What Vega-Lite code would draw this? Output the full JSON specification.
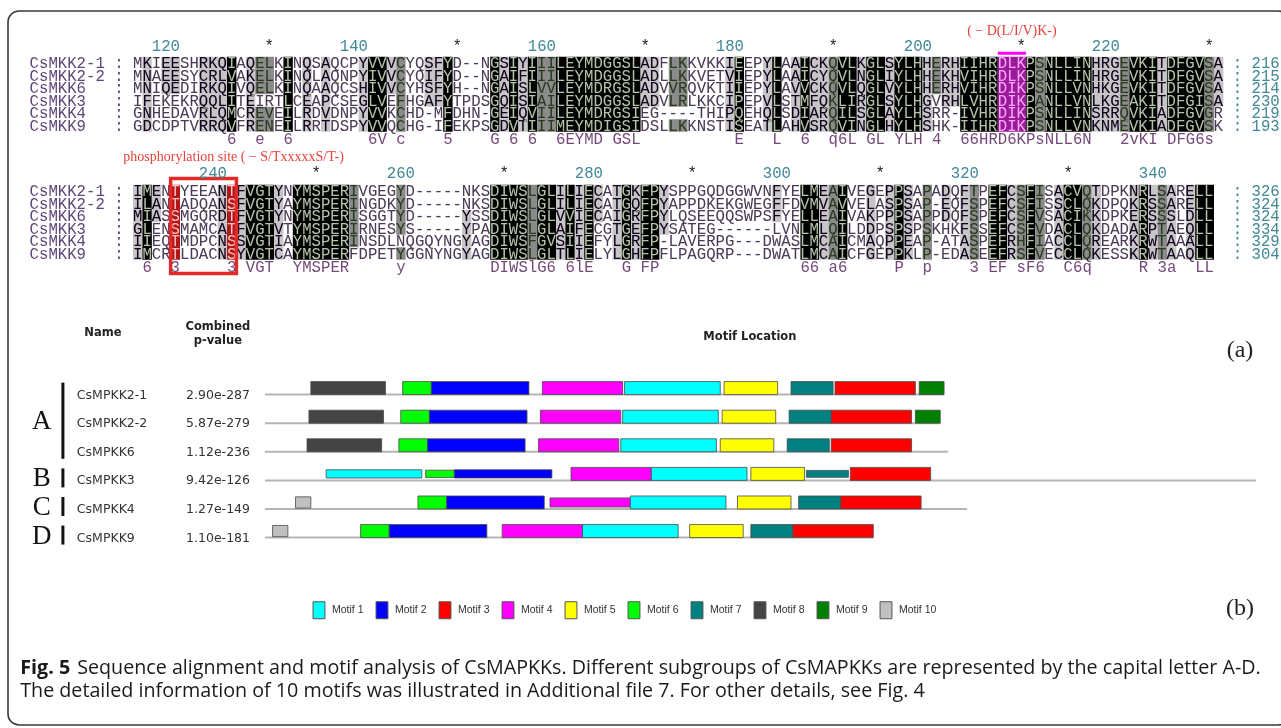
{
  "$schema": "https://vega.github.io/schema/vega-lite/v6.json",
  "width": 1281,
  "height": 728,
  "autosize": {"type": "fit", "contains": "padding"},
  "padding": {"left": 8, "top": 11, "right": -8, "bottom": 3},
  "background": "white",
  "config": {
    "view": {"stroke": "#3a3a3a", "strokeWidth": 1.6, "cornerRadius": 11, "fill": "white"}
  },
  "datasets": {
    "al1": [
      {"r": 0, "n": "CsMKK2-1", "s": "MKIEESHRKQIAQELKINQSAQCPYVVVCYQSFYD--NGSIYIIILEYMDGGSLADFLKKVKKIEEPYLAAICKQVLKGLSYLHHERHIIHRDLKPSNLLINHRGEVKITDFGVSA", "e": ": 216", "h": "DLK"},
      {"r": 1, "n": "CsMKK2-2", "s": "MNAEESYCRLVAKELKINQLAQNPYIVVCYQIFYD--NGAIFIIILEYMDGGSLADLLKKVETVIEPYLAAICYQVLNGLIYLHHEKHVIHRDLKPSNLLINHRGEVKITDFGVSA", "e": ": 215", "h": "DLK"},
      {"r": 2, "n": "CsMKK6", "s": "MNIQEDIRKQIVQELKINQAAQCSHIVVCYHSFYH--NGAISLVVLEYMDRGSLADVVRQVKTIIEPYLAVVCKQVLQGLVYLHHERHVIHRDIKPSNLLVNHKGEVKITDFGVSA", "e": ": 214", "h": "DIK"},
      {"r": 3, "n": "CsMKK3", "s": "IFEKEKRQQLITEIRTLCEAPCSEGLVEFHGAFYTPDSGQISIAILEYMDGGSLADVLRLKKCIPEPVLSTMFQKLIRGLSYLHGVRHLVHRDIKPANLLVNLKGEAKITDFGISA", "e": ": 230", "h": "DIK"},
      {"r": 4, "n": "CsMKK4", "s": "GNHEDAVRLQMCREVEILRDVDNPYVVKCHD-MFDHN-GEIQVIILEYMDRGSIEG----THIPQEHQLSDIARQILSGLAYLHSRR-IVHRDIKPSNLLINSRRQVKIADFGVGR", "e": ": 219", "h": "DIK"},
      {"r": 5, "n": "CsMKK9", "s": "GDCDPTVRRQVFRENEILRRTDSPYVVQCHG-IFEKPSGDVTIIIMEYMDIGSIDSLLKKNSTISEATLAHVSRQVINGLHYLHSHK-IIHRDIKPSNLLVNKNMEVKIADFGVSK", "e": ": 193", "h": "DIK"}
    ],
    "al2": [
      {"r": 0, "n": "CsMKK2-1", "s": "IMENTYEEANTFVGTYNYMSPERIVGEGYD-----NKSDIWSLGLILIECATGKFPYSPPGQDGGWVNFYELMEAIVEGEPPSAPADQFTPEFCSFISACVQTDPKNRLSARELL", "e": ": 326", "a": "T", "b": "T"},
      {"r": 1, "n": "CsMKK2-2", "s": "ILANTADQANSFVGTYAYMSPERINGDKYD-----NKSDIWSLGLILIECATGQFPYAPPDKEKGWEGFFDVMVAVVELASPSAP-EQFSPEFCSFISSCLQKDPQKRSSARELL", "e": ": 324", "a": "T", "b": "S"},
      {"r": 2, "n": "CsMKK6", "s": "MIASSMGQRDTFVGTYNYMSPERISGGTYD-----YSSDIWSLGLVVIECAIGRFPYLQSEEQQSWPSFYELLEAIVAKPPPSAPPDQFSPEFCSFVSACIKKDPKERSSSLDLL", "e": ": 324", "a": "S", "b": "T"},
      {"r": 3, "n": "CsMKK3", "s": "GLENSMAMCATFVGTVTYMSPERIRNESYS-----YPADIWSLGLAIFECGTGEFPYSATEG------LVNLMLQILDDPSPSPSKHKFSSEFCSFVDACLQKDADARPTAEQLL", "e": ": 334", "a": "S", "b": "T"},
      {"r": 4, "n": "CsMKK4", "s": "IIEQTMDPCNSSVGTIAYMSPERINSDLNQGQYNGYAGDIWSFGVSIIEFYLGRFP-LAVERPG---DWASLMCAICMAQPPEAP-ATASPEFRHFIACCLQREARKRWTAAALL", "e": ": 329", "a": "T", "b": "S"},
      {"r": 5, "n": "CsMKK9", "s": "IMCRTLDACNSYVGTCAYMSPERFDPETYGGNYNGYAGDIWSLGLTLIELYLGHFPFLPAGQRP---DWATLMCAICFGEPPKLP-EDASEEFRSFVECCLQKESSKRWTAAQLL", "e": ": 304", "a": "T", "b": "S"}
    ],
    "sh1": [
      {"c0": 1, "c1": 2, "t": -0.5, "b": 5.5, "s": "l"},
      {"c0": 3, "c1": 5, "t": -0.5, "b": 2.5, "s": "l"},
      {"c0": 7, "c1": 10, "t": -0.5, "b": 5.5, "s": "l"},
      {"c0": 10, "c1": 11, "t": -0.5, "b": 5.5, "s": "k"},
      {"c0": 12, "c1": 13, "t": -0.5, "b": 5.5, "s": "l"},
      {"c0": 13, "c1": 15, "t": -0.5, "b": 2.5, "s": "d"},
      {"c0": 13, "c1": 15, "t": 3.5, "b": 5.5, "s": "d"},
      {"c0": 16, "c1": 17, "t": -0.5, "b": 5.5, "s": "k"},
      {"c0": 18, "c1": 19, "t": -0.5, "b": 5.5, "s": "l"},
      {"c0": 20, "c1": 21, "t": -0.5, "b": 5.5, "s": "l"},
      {"c0": 24, "c1": 25, "t": -0.5, "b": 5.5, "s": "l"},
      {"c0": 25, "c1": 27, "t": -0.5, "b": 5.5, "s": "k"},
      {"c0": 27, "c1": 28, "t": -0.5, "b": 2.5, "s": "l"},
      {"c0": 28, "c1": 29, "t": -0.5, "b": 5.5, "s": "d"},
      {"c0": 31, "c1": 33, "t": -0.5, "b": 3.5, "s": "l"},
      {"c0": 33, "c1": 34, "t": -0.5, "b": 5.5, "s": "k"},
      {"c0": 38, "c1": 39, "t": -0.5, "b": 5.5, "s": "k"},
      {"c0": 39, "c1": 40, "t": -0.5, "b": 5.5, "s": "l"},
      {"c0": 40, "c1": 41, "t": -0.5, "b": 5.5, "s": "k"},
      {"c0": 41, "c1": 42, "t": -0.5, "b": 5.5, "s": "l"},
      {"c0": 42, "c1": 43, "t": -0.5, "b": 5.5, "s": "k"},
      {"c0": 43, "c1": 45, "t": -0.5, "b": 5.5, "s": "d"},
      {"c0": 45, "c1": 54, "t": -0.5, "b": 5.5, "s": "k"},
      {"c0": 54, "c1": 56, "t": -0.5, "b": 3.5, "s": "l"},
      {"c0": 57, "c1": 59, "t": -0.5, "b": 3.5, "s": "d"},
      {"c0": 57, "c1": 59, "t": 4.5, "b": 5.5, "s": "d"},
      {"c0": 63, "c1": 64, "t": -0.5, "b": 5.5, "s": "l"},
      {"c0": 64, "c1": 65, "t": -0.5, "b": 5.5, "s": "k"},
      {"c0": 67, "c1": 68, "t": -0.5, "b": 5.5, "s": "l"},
      {"c0": 68, "c1": 69, "t": -0.5, "b": 5.5, "s": "k"},
      {"c0": 70, "c1": 71, "t": -0.5, "b": 5.5, "s": "l"},
      {"c0": 71, "c1": 72, "t": -0.5, "b": 5.5, "s": "k"},
      {"c0": 72, "c1": 74, "t": -0.5, "b": 5.5, "s": "l"},
      {"c0": 74, "c1": 75, "t": -0.5, "b": 5.5, "s": "d"},
      {"c0": 75, "c1": 77, "t": -0.5, "b": 5.5, "s": "k"},
      {"c0": 77, "c1": 78, "t": -0.5, "b": 5.5, "s": "l"},
      {"c0": 78, "c1": 80, "t": -0.5, "b": 5.5, "s": "k"},
      {"c0": 80, "c1": 81, "t": -0.5, "b": 5.5, "s": "l"},
      {"c0": 81, "c1": 84, "t": -0.5, "b": 5.5, "s": "k"},
      {"c0": 84, "c1": 85, "t": -0.5, "b": 5.5, "s": "l"},
      {"c0": 85, "c1": 86, "t": -0.5, "b": 2.5, "s": "d"},
      {"c0": 86, "c1": 88, "t": -0.5, "b": 3.5, "s": "l"},
      {"c0": 88, "c1": 92, "t": -0.5, "b": 5.5, "s": "k"},
      {"c0": 95, "c1": 96, "t": -0.5, "b": 5.5, "s": "k"},
      {"c0": 96, "c1": 97, "t": -0.5, "b": 5.5, "s": "d"},
      {"c0": 97, "c1": 102, "t": -0.5, "b": 5.5, "s": "k"},
      {"c0": 102, "c1": 105, "t": -0.5, "b": 5.5, "s": "l"},
      {"c0": 105, "c1": 106, "t": -0.5, "b": 5.5, "s": "d"},
      {"c0": 106, "c1": 109, "t": -0.5, "b": 5.5, "s": "k"},
      {"c0": 109, "c1": 110, "t": -0.5, "b": 5.5, "s": "l"},
      {"c0": 110, "c1": 114, "t": -0.5, "b": 5.5, "s": "k"},
      {"c0": 114, "c1": 115, "t": -0.5, "b": 5.5, "s": "d"},
      {"c0": 115, "c1": 116, "t": -0.5, "b": 3.5, "s": "l"}
    ],
    "sh2": [
      {"c0": 0, "c1": 1, "t": -0.5, "b": 5.5, "s": "l"},
      {"c0": 1, "c1": 2, "t": -0.5, "b": 5.5, "s": "k"},
      {"c0": 2, "c1": 3, "t": -0.5, "b": 2.5, "s": "l"},
      {"c0": 9, "c1": 10, "t": -0.5, "b": 5.5, "s": "l"},
      {"c0": 11, "c1": 12, "t": -0.5, "b": 5.5, "s": "l"},
      {"c0": 12, "c1": 15, "t": -0.5, "b": 5.5, "s": "k"},
      {"c0": 15, "c1": 16, "t": -0.5, "b": 5.5, "s": "l"},
      {"c0": 17, "c1": 23, "t": -0.5, "b": 5.5, "s": "k"},
      {"c0": 23, "c1": 24, "t": -0.5, "b": 4.5, "s": "d"},
      {"c0": 28, "c1": 29, "t": -0.5, "b": 3.5, "s": "d"},
      {"c0": 28, "c1": 29, "t": 4.5, "b": 5.5, "s": "d"},
      {"c0": 35, "c1": 36, "t": 1.5, "b": 5.5, "s": "l"},
      {"c0": 38, "c1": 42, "t": -0.5, "b": 5.5, "s": "k"},
      {"c0": 42, "c1": 43, "t": -0.5, "b": 5.5, "s": "d"},
      {"c0": 43, "c1": 45, "t": -0.5, "b": 5.5, "s": "k"},
      {"c0": 45, "c1": 46, "t": -0.5, "b": 5.5, "s": "l"},
      {"c0": 46, "c1": 47, "t": -0.5, "b": 5.5, "s": "k"},
      {"c0": 47, "c1": 48, "t": -0.5, "b": 5.5, "s": "l"},
      {"c0": 48, "c1": 49, "t": -0.5, "b": 5.5, "s": "k"},
      {"c0": 49, "c1": 50, "t": -0.5, "b": 2.5, "s": "l"},
      {"c0": 51, "c1": 52, "t": -0.5, "b": 5.5, "s": "l"},
      {"c0": 52, "c1": 53, "t": -0.5, "b": 5.5, "s": "k"},
      {"c0": 53, "c1": 54, "t": -0.5, "b": 5.5, "s": "l"},
      {"c0": 54, "c1": 56, "t": -0.5, "b": 5.5, "s": "k"},
      {"c0": 56, "c1": 57, "t": -0.5, "b": 3.5, "s": "l"},
      {"c0": 68, "c1": 69, "t": -0.5, "b": 2.5, "s": "l"},
      {"c0": 71, "c1": 73, "t": -0.5, "b": 5.5, "s": "k"},
      {"c0": 73, "c1": 74, "t": -0.5, "b": 5.5, "s": "l"},
      {"c0": 74, "c1": 75, "t": -0.5, "b": 5.5, "s": "d"},
      {"c0": 75, "c1": 76, "t": -0.5, "b": 5.5, "s": "k"},
      {"c0": 78, "c1": 79, "t": -0.5, "b": 5.5, "s": "l"},
      {"c0": 80, "c1": 81, "t": -0.5, "b": 5.5, "s": "l"},
      {"c0": 81, "c1": 82, "t": -0.5, "b": 5.5, "s": "k"},
      {"c0": 82, "c1": 83, "t": -0.5, "b": 5.5, "s": "l"},
      {"c0": 84, "c1": 85, "t": -0.5, "b": 5.5, "s": "d"},
      {"c0": 86, "c1": 87, "t": -0.5, "b": 2.5, "s": "l"},
      {"c0": 88, "c1": 89, "t": -0.5, "b": 5.5, "s": "l"},
      {"c0": 89, "c1": 90, "t": -0.5, "b": 5.5, "s": "d"},
      {"c0": 91, "c1": 93, "t": -0.5, "b": 5.5, "s": "k"},
      {"c0": 93, "c1": 94, "t": -0.5, "b": 5.5, "s": "l"},
      {"c0": 94, "c1": 95, "t": -0.5, "b": 5.5, "s": "d"},
      {"c0": 95, "c1": 96, "t": -0.5, "b": 5.5, "s": "k"},
      {"c0": 96, "c1": 97, "t": -0.5, "b": 5.5, "s": "d"},
      {"c0": 98, "c1": 99, "t": -0.5, "b": 5.5, "s": "l"},
      {"c0": 99, "c1": 101, "t": -0.5, "b": 5.5, "s": "k"},
      {"c0": 101, "c1": 102, "t": -0.5, "b": 5.5, "s": "d"},
      {"c0": 102, "c1": 103, "t": -0.5, "b": 5.5, "s": "l"},
      {"c0": 106, "c1": 107, "t": -0.5, "b": 5.5, "s": "l"},
      {"c0": 107, "c1": 108, "t": -0.5, "b": 5.5, "s": "k"},
      {"c0": 108, "c1": 109, "t": -0.5, "b": 5.5, "s": "l"},
      {"c0": 109, "c1": 110, "t": -0.5, "b": 5.5, "s": "d"},
      {"c0": 110, "c1": 111, "t": -0.5, "b": 5.5, "s": "l"},
      {"c0": 112, "c1": 113, "t": -0.5, "b": 5.5, "s": "l"},
      {"c0": 113, "c1": 115, "t": -0.5, "b": 5.5, "s": "k"}
    ],
    "num1": [
      {"e": 5, "t": "120"}, {"e": 15, "t": "*"}, {"e": 25, "t": "140"}, {"e": 35, "t": "*"},
      {"e": 45, "t": "160"}, {"e": 55, "t": "*"}, {"e": 65, "t": "180"}, {"e": 75, "t": "*"},
      {"e": 85, "t": "200"}, {"e": 95, "t": "*"}, {"e": 105, "t": "220"}, {"e": 115, "t": "*"}
    ],
    "num2": [
      {"e": 10, "t": "240"}, {"e": 20, "t": "*"}, {"e": 30, "t": "260"}, {"e": 40, "t": "*"},
      {"e": 50, "t": "280"}, {"e": 60, "t": "*"}, {"e": 70, "t": "300"}, {"e": 80, "t": "*"},
      {"e": 90, "t": "320"}, {"e": 100, "t": "*"}, {"e": 110, "t": "340"}
    ],
    "con1": [
      {"c": 10, "t": "6"}, {"c": 13, "t": "e"}, {"c": 16, "t": "6"}, {"c": 25, "t": "6V"}, {"c": 28, "t": "c"},
      {"c": 33, "t": "5"}, {"c": 38, "t": "G"}, {"c": 40, "t": "6"}, {"c": 42, "t": "6"}, {"c": 45, "t": "6EYMD"},
      {"c": 51, "t": "GSL"}, {"c": 64, "t": "E"}, {"c": 68, "t": "L"}, {"c": 71, "t": "6"}, {"c": 74, "t": "q6L"},
      {"c": 78, "t": "GL"}, {"c": 81, "t": "YLH"}, {"c": 85, "t": "4"}, {"c": 88, "t": "66HRD6KPsNLL6N"},
      {"c": 105, "t": "2vKI"}, {"c": 110, "t": "DFG6s"}
    ],
    "con2": [
      {"c": 1, "t": "6"}, {"c": 4, "t": "3"}, {"c": 10, "t": "3"}, {"c": 12, "t": "VGT"}, {"c": 17, "t": "YMSPER"},
      {"c": 28, "t": "y"}, {"c": 38, "t": "DIWSlG6"}, {"c": 46, "t": "6lE"}, {"c": 52, "t": "G"}, {"c": 54, "t": "FP"},
      {"c": 71, "t": "66"}, {"c": 74, "t": "a6"}, {"c": 81, "t": "P"}, {"c": 84, "t": "p"}, {"c": 89, "t": "3"},
      {"c": 91, "t": "EF"}, {"c": 94, "t": "sF6"}, {"c": 99, "t": "C6q"}, {"c": 107, "t": "R"}, {"c": 109, "t": "3a"},
      {"c": 113, "t": "LL"}
    ],
    "hl1": [{"lab": "( − D(L/I/V)K-)", "c0": 92, "c1": 95, "r0": -0.5, "r1": 5.5}],
    "hl2": [{"c0": 4, "c1": 5, "r0": -0.5, "r1": 5.5}, {"c0": 10, "c1": 11, "r0": -0.5, "r1": 5.5}],
    "box2": [{"lab": "phosphorylation site ( − S/TxxxxxS/T-)", "c0": 4, "c1": 11, "r0": -1.0, "r1": 6.6}],
    "mseq": [
      {"i": 0, "n": "CsMPKK2-1", "pv": "2.90e-287", "grp": "A", "len": 355},
      {"i": 1, "n": "CsMPKK2-2", "pv": "5.87e-279", "grp": "A", "len": 353},
      {"i": 2, "n": "CsMPKK6", "pv": "1.12e-236", "grp": "A", "len": 357},
      {"i": 3, "n": "CsMPKK3", "pv": "9.42e-126", "grp": "B", "len": 518},
      {"i": 4, "n": "CsMPKK4", "pv": "1.27e-149", "grp": "C", "len": 367},
      {"i": 5, "n": "CsMPKK9", "pv": "1.10e-181", "grp": "D", "len": 318}
    ],
    "mgrp": [
      {"grp": "A", "r0": 0, "r1": 2, "mid": 1},
      {"grp": "B", "r0": 3, "r1": 3, "mid": 3},
      {"grp": "C", "r0": 4, "r1": 4, "mid": 4},
      {"grp": "D", "r0": 5, "r1": 5, "mid": 5}
    ],
    "msite": [
      {"i": 0, "m": 8, "s": 24, "e": 63, "lg": 30}, {"i": 0, "m": 6, "s": 72, "e": 87, "lg": 30},
      {"i": 0, "m": 2, "s": 87, "e": 138, "lg": 30}, {"i": 0, "m": 4, "s": 145, "e": 187, "lg": 30},
      {"i": 0, "m": 1, "s": 188, "e": 238, "lg": 30}, {"i": 0, "m": 5, "s": 240, "e": 268, "lg": 30},
      {"i": 0, "m": 7, "s": 275, "e": 297, "lg": 30}, {"i": 0, "m": 3, "s": 298, "e": 340, "lg": 30},
      {"i": 0, "m": 9, "s": 342, "e": 355, "lg": 30},
      {"i": 1, "m": 8, "s": 23, "e": 62, "lg": 30}, {"i": 1, "m": 6, "s": 71, "e": 86, "lg": 30},
      {"i": 1, "m": 2, "s": 86, "e": 137, "lg": 30}, {"i": 1, "m": 4, "s": 144, "e": 186, "lg": 30},
      {"i": 1, "m": 1, "s": 187, "e": 237, "lg": 30}, {"i": 1, "m": 5, "s": 239, "e": 267, "lg": 30},
      {"i": 1, "m": 7, "s": 274, "e": 296, "lg": 30}, {"i": 1, "m": 3, "s": 296, "e": 338, "lg": 30},
      {"i": 1, "m": 9, "s": 340, "e": 353, "lg": 30},
      {"i": 2, "m": 8, "s": 22, "e": 61, "lg": 30}, {"i": 2, "m": 6, "s": 70, "e": 85, "lg": 30},
      {"i": 2, "m": 2, "s": 85, "e": 136, "lg": 30}, {"i": 2, "m": 4, "s": 143, "e": 185, "lg": 30},
      {"i": 2, "m": 1, "s": 186, "e": 236, "lg": 30}, {"i": 2, "m": 5, "s": 238, "e": 266, "lg": 30},
      {"i": 2, "m": 7, "s": 273, "e": 295, "lg": 30}, {"i": 2, "m": 3, "s": 296, "e": 338, "lg": 30},
      {"i": 3, "m": 1, "s": 32, "e": 82, "lg": 19}, {"i": 3, "m": 6, "s": 84, "e": 99, "lg": 17},
      {"i": 3, "m": 2, "s": 99, "e": 150, "lg": 19}, {"i": 3, "m": 4, "s": 160, "e": 202, "lg": 30},
      {"i": 3, "m": 1, "s": 202, "e": 252, "lg": 30}, {"i": 3, "m": 5, "s": 254, "e": 282, "lg": 30},
      {"i": 3, "m": 7, "s": 283, "e": 305, "lg": 16}, {"i": 3, "m": 3, "s": 306, "e": 348, "lg": 30},
      {"i": 4, "m": 10, "s": 16, "e": 24, "lg": 26}, {"i": 4, "m": 6, "s": 80, "e": 95, "lg": 30},
      {"i": 4, "m": 2, "s": 95, "e": 146, "lg": 30}, {"i": 4, "m": 4, "s": 149, "e": 191, "lg": 21},
      {"i": 4, "m": 1, "s": 191, "e": 241, "lg": 30}, {"i": 4, "m": 5, "s": 247, "e": 275, "lg": 30},
      {"i": 4, "m": 7, "s": 279, "e": 301, "lg": 30}, {"i": 4, "m": 3, "s": 301, "e": 343, "lg": 30},
      {"i": 5, "m": 10, "s": 4, "e": 12, "lg": 26}, {"i": 5, "m": 6, "s": 50, "e": 65, "lg": 30},
      {"i": 5, "m": 2, "s": 65, "e": 116, "lg": 30}, {"i": 5, "m": 4, "s": 124, "e": 166, "lg": 30},
      {"i": 5, "m": 1, "s": 166, "e": 216, "lg": 30}, {"i": 5, "m": 5, "s": 222, "e": 250, "lg": 30},
      {"i": 5, "m": 7, "s": 254, "e": 276, "lg": 30}, {"i": 5, "m": 3, "s": 276, "e": 318, "lg": 30}
    ],
    "cap": [
      {"ln": 0, "lead": "Fig. 5", "t": "Sequence alignment and motif analysis of CsMAPKKs. Different subgroups of CsMAPKKs are represented by the capital letter A-D."},
      {"ln": 1, "lead": "", "t": "The detailed information of 10 motifs was illustrated in Additional file 7. For other details, see Fig. 4"}
    ]
  },
  "layer": [
    {
      "layer": [
        {
          "data": {"name": "sh1"},
          "mark": {"type": "rect"},
          "encoding": {
            "x": {"field": "c0", "type": "quantitative", "scale": {"domain": [-13.3, 122.98], "nice": false, "zero": false}, "axis": null},
            "x2": {"field": "c1"},
            "y": {"field": "t", "type": "quantitative", "scale": {"domain": [-4.16, 52.96], "reverse": true, "nice": false, "zero": false}, "axis": null},
            "y2": {"field": "b"},
            "color": {"field": "s", "type": "nominal", "scale": {"domain": ["k", "d", "l"], "range": ["#000000", "#8a8a8a", "#c6c6c6"]}, "legend": null}
          }
        },
        {
          "data": {"name": "al1"},
          "mark": {"type": "text", "align": "left", "baseline": "middle", "font": "Liberation Mono", "fontSize": 15.67, "color": "#b4c4a8", "blend": "difference"},
          "encoding": {
            "x": {"datum": 0, "type": "quantitative", "scale": {"domain": [-13.3, 122.98], "nice": false, "zero": false}, "axis": null},
            "y": {"field": "r", "type": "quantitative", "scale": {"domain": [-4.16, 52.96], "reverse": true, "nice": false, "zero": false}, "axis": null},
            "text": {"field": "s"}
          }
        },
        {
          "data": {"name": "hl1"},
          "mark": {"type": "rect", "color": "#9a1a9a"},
          "encoding": {
            "x": {"field": "c0", "type": "quantitative", "scale": {"domain": [-13.3, 122.98], "nice": false, "zero": false}, "axis": null},
            "x2": {"field": "c1"},
            "y": {"field": "r0", "type": "quantitative", "scale": {"domain": [-4.16, 52.96], "reverse": true, "nice": false, "zero": false}, "axis": null},
            "y2": {"field": "r1"}
          }
        },
        {
          "data": {"name": "al1"},
          "mark": {"type": "text", "align": "left", "baseline": "middle", "font": "Liberation Mono", "fontSize": 15.67, "color": "#ffa8ff"},
          "encoding": {
            "x": {"datum": 92, "type": "quantitative", "scale": {"domain": [-13.3, 122.98], "nice": false, "zero": false}, "axis": null},
            "y": {"field": "r", "type": "quantitative", "scale": {"domain": [-4.16, 52.96], "reverse": true, "nice": false, "zero": false}, "axis": null},
            "text": {"field": "h"}
          }
        },
        {
          "data": {"name": "al1"},
          "mark": {"type": "text", "align": "left", "baseline": "middle", "font": "Liberation Mono", "fontSize": 15.67, "color": "#5e4678"},
          "encoding": {
            "x": {"datum": -11, "type": "quantitative", "scale": {"domain": [-13.3, 122.98], "nice": false, "zero": false}, "axis": null},
            "y": {"field": "r", "type": "quantitative", "scale": {"domain": [-4.16, 52.96], "reverse": true, "nice": false, "zero": false}, "axis": null},
            "text": {"field": "n"}
          }
        },
        {
          "data": {"name": "al1"},
          "mark": {"type": "text", "align": "left", "baseline": "middle", "font": "Liberation Mono", "fontSize": 15.67, "color": "#5e4678"},
          "encoding": {
            "x": {"datum": -2, "type": "quantitative", "scale": {"domain": [-13.3, 122.98], "nice": false, "zero": false}, "axis": null},
            "y": {"field": "r", "type": "quantitative", "scale": {"domain": [-4.16, 52.96], "reverse": true, "nice": false, "zero": false}, "axis": null},
            "text": {"value": ":"}
          }
        },
        {
          "data": {"name": "al1"},
          "mark": {"type": "text", "align": "left", "baseline": "middle", "font": "Liberation Mono", "fontSize": 15.67, "color": "#3f8896"},
          "encoding": {
            "x": {"datum": 117, "type": "quantitative", "scale": {"domain": [-13.3, 122.98], "nice": false, "zero": false}, "axis": null},
            "y": {"field": "r", "type": "quantitative", "scale": {"domain": [-4.16, 52.96], "reverse": true, "nice": false, "zero": false}, "axis": null},
            "text": {"field": "e"}
          }
        },
        {
          "data": {"name": "num1"},
          "mark": {"type": "text", "align": "right", "baseline": "middle", "font": "Liberation Mono", "fontSize": 15.67},
          "encoding": {
            "x": {"field": "e", "type": "quantitative", "scale": {"domain": [-13.3, 122.98], "nice": false, "zero": false}, "axis": null},
            "y": {"datum": -1.35, "type": "quantitative", "scale": {"domain": [-4.16, 52.96], "reverse": true, "nice": false, "zero": false}, "axis": null},
            "text": {"field": "t"},
            "color": {"condition": {"test": "datum.t === '*'", "value": "#222222"}, "value": "#3f8896"}
          }
        },
        {
          "data": {"name": "con1"},
          "mark": {"type": "text", "align": "left", "baseline": "middle", "font": "Liberation Mono", "fontSize": 15.67, "color": "#74497a"},
          "encoding": {
            "x": {"field": "c", "type": "quantitative", "scale": {"domain": [-13.3, 122.98], "nice": false, "zero": false}, "axis": null},
            "y": {"datum": 6.1, "type": "quantitative", "scale": {"domain": [-4.16, 52.96], "reverse": true, "nice": false, "zero": false}, "axis": null},
            "text": {"field": "t"}
          }
        },
        {
          "data": {"name": "hl1"},
          "mark": {"type": "rule", "color": "#ff00ff", "strokeWidth": 3},
          "encoding": {
            "x": {"field": "c0", "type": "quantitative", "scale": {"domain": [-13.3, 122.98], "nice": false, "zero": false}, "axis": null},
            "x2": {"field": "c1"},
            "y": {"datum": -0.78, "type": "quantitative", "scale": {"domain": [-4.16, 52.96], "reverse": true, "nice": false, "zero": false}, "axis": null}
          }
        },
        {
          "data": {"name": "hl1"},
          "mark": {"type": "text", "align": "center", "baseline": "middle", "font": "Liberation Serif", "fontSize": 14, "color": "#e8403a"},
          "encoding": {
            "x": {"datum": 93.5, "type": "quantitative", "scale": {"domain": [-13.3, 122.98], "nice": false, "zero": false}, "axis": null},
            "y": {"datum": -2.6, "type": "quantitative", "scale": {"domain": [-4.16, 52.96], "reverse": true, "nice": false, "zero": false}, "axis": null},
            "text": {"field": "lab"}
          }
        }
      ]
    },
    {
      "layer": [
        {
          "data": {"name": "sh2"},
          "mark": {"type": "rect"},
          "encoding": {
            "x": {"field": "c0", "type": "quantitative", "scale": {"domain": [-13.3, 122.98], "nice": false, "zero": false}, "axis": null},
            "x2": {"field": "c1"},
            "y": {"field": "t", "type": "quantitative", "scale": {"domain": [-14.4, 42.72], "reverse": true, "nice": false, "zero": false}, "axis": null},
            "y2": {"field": "b"},
            "color": {"field": "s", "type": "nominal", "scale": {"domain": ["k", "d", "l"], "range": ["#000000", "#8a8a8a", "#c6c6c6"]}, "legend": null}
          }
        },
        {
          "data": {"name": "al2"},
          "mark": {"type": "text", "align": "left", "baseline": "middle", "font": "Liberation Mono", "fontSize": 15.67, "color": "#b4c4a8", "blend": "difference"},
          "encoding": {
            "x": {"datum": 0, "type": "quantitative", "scale": {"domain": [-13.3, 122.98], "nice": false, "zero": false}, "axis": null},
            "y": {"field": "r", "type": "quantitative", "scale": {"domain": [-14.4, 42.72], "reverse": true, "nice": false, "zero": false}, "axis": null},
            "text": {"field": "s"}
          }
        },
        {
          "data": {"name": "hl2"},
          "mark": {"type": "rect", "color": "#b01818"},
          "encoding": {
            "x": {"field": "c0", "type": "quantitative", "scale": {"domain": [-13.3, 122.98], "nice": false, "zero": false}, "axis": null},
            "x2": {"field": "c1"},
            "y": {"field": "r0", "type": "quantitative", "scale": {"domain": [-14.4, 42.72], "reverse": true, "nice": false, "zero": false}, "axis": null},
            "y2": {"field": "r1"}
          }
        },
        {
          "data": {"name": "al2"},
          "mark": {"type": "text", "align": "left", "baseline": "middle", "font": "Liberation Mono", "fontSize": 15.67, "color": "#ffc4c4"},
          "encoding": {
            "x": {"datum": 4, "type": "quantitative", "scale": {"domain": [-13.3, 122.98], "nice": false, "zero": false}, "axis": null},
            "y": {"field": "r", "type": "quantitative", "scale": {"domain": [-14.4, 42.72], "reverse": true, "nice": false, "zero": false}, "axis": null},
            "text": {"field": "a"}
          }
        },
        {
          "data": {"name": "al2"},
          "mark": {"type": "text", "align": "left", "baseline": "middle", "font": "Liberation Mono", "fontSize": 15.67, "color": "#ffc4c4"},
          "encoding": {
            "x": {"datum": 10, "type": "quantitative", "scale": {"domain": [-13.3, 122.98], "nice": false, "zero": false}, "axis": null},
            "y": {"field": "r", "type": "quantitative", "scale": {"domain": [-14.4, 42.72], "reverse": true, "nice": false, "zero": false}, "axis": null},
            "text": {"field": "b"}
          }
        },
        {
          "data": {"name": "box2"},
          "mark": {"type": "rect", "fillOpacity": 0, "stroke": "#e52828", "strokeWidth": 3.5},
          "encoding": {
            "x": {"field": "c0", "type": "quantitative", "scale": {"domain": [-13.3, 122.98], "nice": false, "zero": false}, "axis": null},
            "x2": {"field": "c1"},
            "y": {"field": "r0", "type": "quantitative", "scale": {"domain": [-14.4, 42.72], "reverse": true, "nice": false, "zero": false}, "axis": null},
            "y2": {"field": "r1"}
          }
        },
        {
          "data": {"name": "al2"},
          "mark": {"type": "text", "align": "left", "baseline": "middle", "font": "Liberation Mono", "fontSize": 15.67, "color": "#5e4678"},
          "encoding": {
            "x": {"datum": -11, "type": "quantitative", "scale": {"domain": [-13.3, 122.98], "nice": false, "zero": false}, "axis": null},
            "y": {"field": "r", "type": "quantitative", "scale": {"domain": [-14.4, 42.72], "reverse": true, "nice": false, "zero": false}, "axis": null},
            "text": {"field": "n"}
          }
        },
        {
          "data": {"name": "al2"},
          "mark": {"type": "text", "align": "left", "baseline": "middle", "font": "Liberation Mono", "fontSize": 15.67, "color": "#5e4678"},
          "encoding": {
            "x": {"datum": -2, "type": "quantitative", "scale": {"domain": [-13.3, 122.98], "nice": false, "zero": false}, "axis": null},
            "y": {"field": "r", "type": "quantitative", "scale": {"domain": [-14.4, 42.72], "reverse": true, "nice": false, "zero": false}, "axis": null},
            "text": {"value": ":"}
          }
        },
        {
          "data": {"name": "al2"},
          "mark": {"type": "text", "align": "left", "baseline": "middle", "font": "Liberation Mono", "fontSize": 15.67, "color": "#3f8896"},
          "encoding": {
            "x": {"datum": 117, "type": "quantitative", "scale": {"domain": [-13.3, 122.98], "nice": false, "zero": false}, "axis": null},
            "y": {"field": "r", "type": "quantitative", "scale": {"domain": [-14.4, 42.72], "reverse": true, "nice": false, "zero": false}, "axis": null},
            "text": {"field": "e"}
          }
        },
        {
          "data": {"name": "num2"},
          "mark": {"type": "text", "align": "right", "baseline": "middle", "font": "Liberation Mono", "fontSize": 15.67},
          "encoding": {
            "x": {"field": "e", "type": "quantitative", "scale": {"domain": [-13.3, 122.98], "nice": false, "zero": false}, "axis": null},
            "y": {"datum": -1.45, "type": "quantitative", "scale": {"domain": [-14.4, 42.72], "reverse": true, "nice": false, "zero": false}, "axis": null},
            "text": {"field": "t"},
            "color": {"condition": {"test": "datum.t === '*'", "value": "#222222"}, "value": "#3f8896"}
          }
        },
        {
          "data": {"name": "con2"},
          "mark": {"type": "text", "align": "left", "baseline": "middle", "font": "Liberation Mono", "fontSize": 15.67, "color": "#74497a"},
          "encoding": {
            "x": {"field": "c", "type": "quantitative", "scale": {"domain": [-13.3, 122.98], "nice": false, "zero": false}, "axis": null},
            "y": {"datum": 6.1, "type": "quantitative", "scale": {"domain": [-14.4, 42.72], "reverse": true, "nice": false, "zero": false}, "axis": null},
            "text": {"field": "t"}
          }
        },
        {
          "data": {"name": "box2"},
          "mark": {"type": "text", "align": "center", "baseline": "middle", "font": "Liberation Serif", "fontSize": 14, "color": "#e8403a"},
          "encoding": {
            "x": {"datum": 10.7, "type": "quantitative", "scale": {"domain": [-13.3, 122.98], "nice": false, "zero": false}, "axis": null},
            "y": {"datum": -2.75, "type": "quantitative", "scale": {"domain": [-14.4, 42.72], "reverse": true, "nice": false, "zero": false}, "axis": null},
            "text": {"field": "lab"}
          }
        }
      ]
    },
    {
      "layer": [
        {
          "data": {"name": "mseq"},
          "mark": {"type": "rule", "color": "#b5b5b5", "strokeWidth": 2},
          "encoding": {
            "x": {"field": "len", "type": "quantitative", "scale": {"domain": [-134.3, 535.3], "nice": false, "zero": false}, "axis": null},
            "x2": {"datum": 0},
            "y": {"field": "i", "type": "quantitative", "scale": {"domain": [-13.24, 11.38], "reverse": true, "nice": false, "zero": false}, "axis": null}
          }
        },
        {
          "data": {"name": "msite"},
          "mark": {"type": "bar", "yOffset": -6.5, "stroke": "#4a4a4a", "strokeWidth": 0.8, "opacity": 1},
          "encoding": {
            "x": {
              "field": "s", "type": "quantitative",
              "scale": {"domain": [-134.3, 535.3], "nice": false, "zero": false},
              "axis": {
                "orient": "bottom", "offset": -167, "title": null, "domain": false, "grid": false,
                "values": [0, 20, 40, 60, 80, 100, 120, 140, 160, 180, 200, 220, 240, 260, 280, 300, 320, 340, 360, 380, 400, 420, 440, 460, 480, 500],
                "labelExpr": "datum.value % 100 === 0 ? datum.label : ''",
                "labelOverlap": false, "labelFlush": false,
                "tickColor": "#2a2aa6",
                "tickSize": {"condition": {"test": "datum.value % 100 === 0", "value": 8}, "value": 2},
                "tickWidth": {"condition": {"test": "datum.value % 100 === 0", "value": 2}, "value": 1.5},
                "labelColor": "#2a2aa6", "labelFont": "DejaVu Sans", "labelFontSize": 11, "labelPadding": 2
              }
            },
            "x2": {"field": "e"},
            "y": {"field": "i", "type": "quantitative", "scale": {"domain": [-13.24, 11.38], "reverse": true, "nice": false, "zero": false}, "axis": null},
            "size": {"field": "lg", "type": "quantitative", "scale": {"domain": [0, 30], "range": [0, 13]}, "legend": null},
            "color": {
              "field": "m", "type": "nominal",
              "scale": {"domain": [1, 2, 3, 4, 5, 6, 7, 8, 9, 10], "range": ["#00ffff", "#0000ff", "#ff0000", "#ff00ff", "#ffff00", "#00ff00", "#008080", "#444444", "#008000", "#c0c0c0"]},
              "legend": {
                "orient": "none", "legendX": 302, "legendY": 590, "direction": "horizontal", "columns": 10, "title": null,
                "symbolType": "M-0.7,-1H0.7V1H-0.7Z", "symbolSize": 289, "symbolStrokeColor": "#555555", "symbolStrokeWidth": 1,
                "labelFont": "Liberation Sans", "labelFontSize": 10.5, "labelColor": "#333333", "labelOffset": 4,
                "columnPadding": 9, "padding": 0, "labelExpr": "'Motif ' + datum.label"
              }
            }
          }
        },
        {
          "data": {"name": "mseq"},
          "mark": {"type": "text", "align": "left", "baseline": "middle", "font": "DejaVu Sans", "fontSize": 12.5, "color": "#333333"},
          "encoding": {
            "x": {"datum": -98.3, "type": "quantitative", "scale": {"domain": [-134.3, 535.3], "nice": false, "zero": false}, "axis": null},
            "y": {"field": "i", "type": "quantitative", "scale": {"domain": [-13.24, 11.38], "reverse": true, "nice": false, "zero": false}, "axis": null},
            "text": {"field": "n"}
          }
        },
        {
          "data": {"name": "mseq"},
          "mark": {"type": "text", "align": "right", "baseline": "middle", "font": "DejaVu Sans", "fontSize": 12.5, "color": "#333333"},
          "encoding": {
            "x": {"datum": -7.8, "type": "quantitative", "scale": {"domain": [-134.3, 535.3], "nice": false, "zero": false}, "axis": null},
            "y": {"field": "i", "type": "quantitative", "scale": {"domain": [-13.24, 11.38], "reverse": true, "nice": false, "zero": false}, "axis": null},
            "text": {"field": "pv"}
          }
        },
        {
          "data": {"name": "mgrp"},
          "mark": {"type": "text", "align": "center", "baseline": "middle", "font": "Liberation Serif", "fontSize": 27, "color": "#111111", "yOffset": -2},
          "encoding": {
            "x": {"datum": -116.6, "type": "quantitative", "scale": {"domain": [-134.3, 535.3], "nice": false, "zero": false}, "axis": null},
            "y": {"field": "mid", "type": "quantitative", "scale": {"domain": [-13.24, 11.38], "reverse": true, "nice": false, "zero": false}, "axis": null},
            "text": {"field": "grp"}
          }
        },
        {
          "data": {"name": "mgrp"},
          "mark": {"type": "rule", "color": "#111111", "strokeWidth": 3, "yOffset": -12, "y2Offset": 7},
          "encoding": {
            "x": {"datum": -105.6, "type": "quantitative", "scale": {"domain": [-134.3, 535.3], "nice": false, "zero": false}, "axis": null},
            "y": {"field": "r0", "type": "quantitative", "scale": {"domain": [-13.24, 11.38], "reverse": true, "nice": false, "zero": false}, "axis": null},
            "y2": {"field": "r1"}
          }
        },
        {
          "data": {"values": [{"t": "Name"}]},
          "mark": {"type": "text", "align": "center", "baseline": "middle", "font": "DejaVu Sans", "fontSize": 11.5, "fontWeight": "bold", "color": "#222222"},
          "encoding": {
            "x": {"datum": -84.7, "type": "quantitative", "scale": {"domain": [-134.3, 535.3], "nice": false, "zero": false}, "axis": null},
            "y": {"datum": -2.14, "type": "quantitative", "scale": {"domain": [-13.24, 11.38], "reverse": true, "nice": false, "zero": false}, "axis": null},
            "text": {"field": "t"}
          }
        },
        {
          "data": {"values": [{"t": "Combined"}]},
          "mark": {"type": "text", "align": "center", "baseline": "middle", "font": "DejaVu Sans", "fontSize": 11.5, "fontWeight": "bold", "color": "#222222"},
          "encoding": {
            "x": {"datum": -24.6, "type": "quantitative", "scale": {"domain": [-134.3, 535.3], "nice": false, "zero": false}, "axis": null},
            "y": {"datum": -2.38, "type": "quantitative", "scale": {"domain": [-13.24, 11.38], "reverse": true, "nice": false, "zero": false}, "axis": null},
            "text": {"field": "t"}
          }
        },
        {
          "data": {"values": [{"t": "p-value"}]},
          "mark": {"type": "text", "align": "center", "baseline": "middle", "font": "DejaVu Sans", "fontSize": 11.5, "fontWeight": "bold", "color": "#222222"},
          "encoding": {
            "x": {"datum": -24.6, "type": "quantitative", "scale": {"domain": [-134.3, 535.3], "nice": false, "zero": false}, "axis": null},
            "y": {"datum": -1.86, "type": "quantitative", "scale": {"domain": [-13.24, 11.38], "reverse": true, "nice": false, "zero": false}, "axis": null},
            "text": {"field": "t"}
          }
        },
        {
          "data": {"values": [{"t": "Motif Location"}]},
          "mark": {"type": "text", "align": "center", "baseline": "middle", "font": "DejaVu Sans", "fontSize": 11.5, "fontWeight": "bold", "color": "#222222"},
          "encoding": {
            "x": {"datum": 253.5, "type": "quantitative", "scale": {"domain": [-134.3, 535.3], "nice": false, "zero": false}, "axis": null},
            "y": {"datum": -2.03, "type": "quantitative", "scale": {"domain": [-13.24, 11.38], "reverse": true, "nice": false, "zero": false}, "axis": null},
            "text": {"field": "t"}
          }
        },
        {
          "data": {"values": [{"t": "(a)"}]},
          "mark": {"type": "text", "align": "center", "baseline": "middle", "font": "Liberation Serif", "fontSize": 24, "color": "#222222"},
          "encoding": {
            "x": {"datum": 509.7, "type": "quantitative", "scale": {"domain": [-134.3, 535.3], "nice": false, "zero": false}, "axis": null},
            "y": {"datum": -1.55, "type": "quantitative", "scale": {"domain": [-13.24, 11.38], "reverse": true, "nice": false, "zero": false}, "axis": null},
            "text": {"field": "t"}
          }
        },
        {
          "data": {"values": [{"t": "(b)"}]},
          "mark": {"type": "text", "align": "center", "baseline": "middle", "font": "Liberation Serif", "fontSize": 24, "color": "#222222"},
          "encoding": {
            "x": {"datum": 509.7, "type": "quantitative", "scale": {"domain": [-134.3, 535.3], "nice": false, "zero": false}, "axis": null},
            "y": {"datum": 7.48, "type": "quantitative", "scale": {"domain": [-13.24, 11.38], "reverse": true, "nice": false, "zero": false}, "axis": null},
            "text": {"field": "t"}
          }
        }
      ]
    },
    {
      "data": {"name": "cap"},
      "layer": [
        {
          "mark": {"type": "text", "align": "left", "baseline": "middle", "font": "Open Sans", "fontSize": 19.7, "fontWeight": "bold", "color": "#1a1a1a"},
          "encoding": {
            "x": {"datum": -12, "type": "quantitative", "scale": {"domain": [-13.3, 122.98], "nice": false, "zero": false}, "axis": null},
            "y": {"field": "ln", "type": "quantitative", "scale": {"domain": [-28.57, 2.47], "reverse": true, "nice": false, "zero": false}, "axis": null},
            "text": {"field": "lead"}
          }
        },
        {
          "transform": [{"filter": "datum.ln == 0"}],
          "mark": {"type": "text", "align": "left", "baseline": "middle", "font": "Open Sans", "fontSize": 19.7, "color": "#1a1a1a", "dx": 57},
          "encoding": {
            "x": {"datum": -12, "type": "quantitative", "scale": {"domain": [-13.3, 122.98], "nice": false, "zero": false}, "axis": null},
            "y": {"field": "ln", "type": "quantitative", "scale": {"domain": [-28.57, 2.47], "reverse": true, "nice": false, "zero": false}, "axis": null},
            "text": {"field": "t"}
          }
        },
        {
          "transform": [{"filter": "datum.ln == 1"}],
          "mark": {"type": "text", "align": "left", "baseline": "middle", "font": "Open Sans", "fontSize": 19.7, "color": "#1a1a1a"},
          "encoding": {
            "x": {"datum": -12, "type": "quantitative", "scale": {"domain": [-13.3, 122.98], "nice": false, "zero": false}, "axis": null},
            "y": {"field": "ln", "type": "quantitative", "scale": {"domain": [-28.57, 2.47], "reverse": true, "nice": false, "zero": false}, "axis": null},
            "text": {"field": "t"}
          }
        }
      ]
    }
  ],
  "resolve": {"scale": {"x": "independent", "y": "independent", "color": "independent", "size": "independent"}}
}
